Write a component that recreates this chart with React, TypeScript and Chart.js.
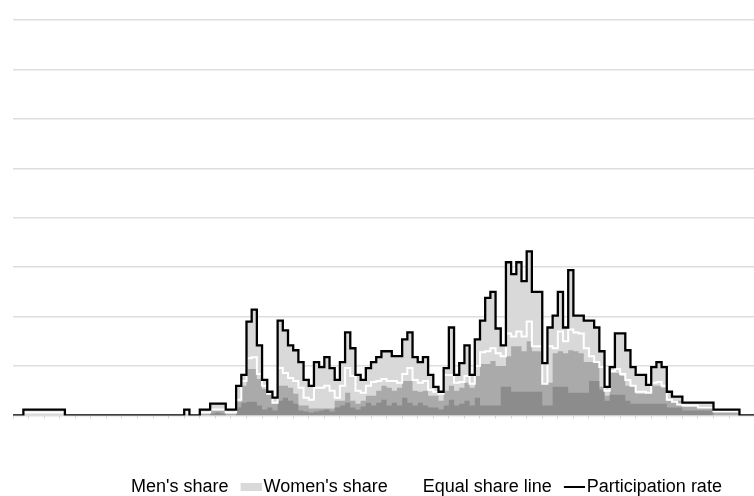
import React, { useEffect, useRef } from 'react';
import { Chart, registerables } from 'chart.js';

Chart.register(...registerables);

// One value per time bin (143 bins). Values in percent.
const participation = [
  0, 0, 0.6, 0.6, 0.6, 0.6, 0.6, 0.6, 0.6, 0.6,
  0, 0, 0, 0, 0, 0, 0, 0, 0, 0,
  0, 0, 0, 0, 0, 0, 0, 0, 0, 0,
  0, 0, 0, 0.6, 0, 0, 0.6, 0.6, 1.2, 1.2,
  1.2, 0.6, 0.6, 3.0, 4.1, 9.5, 10.7, 7.1, 3.6, 2.4,
  1.8, 9.6, 8.6, 7.1, 6.6, 5.4, 3.6, 3.0, 5.4, 4.9,
  5.9, 4.8, 3.6, 5.4, 8.4, 6.8, 4.1, 3.6, 4.8, 5.4,
  5.9, 6.5, 6.5, 6.0, 6.0, 7.7, 8.4, 5.9, 5.4, 5.9,
  4.1, 2.9, 2.4, 4.8, 8.9, 4.1, 5.3, 7.1, 4.1, 7.7,
  9.6, 11.9, 12.5, 8.8, 7.1, 15.5, 14.3, 15.5, 13.6, 16.6,
  12.5, 12.5, 5.3, 8.9, 10.1, 12.5, 8.9, 14.7, 10.1, 10.1,
  9.6, 9.6, 8.9, 6.5, 2.9, 4.9, 8.3, 8.3, 6.6, 4.9,
  4.1, 4.1, 3.1, 4.9, 5.4, 4.9, 2.4, 1.9, 1.9, 1.3,
  1.3, 1.3, 1.3, 1.3, 1.3, 0.6, 0.6, 0.6, 0.6, 0.6,
  0, 0, 0,
];

const equalShare = [
  0, 0, 0.3, 0.3, 0.3, 0.3, 0.3, 0.3, 0.3, 0.3,
  0, 0, 0, 0, 0, 0, 0, 0, 0, 0,
  0, 0, 0, 0, 0, 0, 0, 0, 0, 0,
  0, 0, 0, 0.3, 0, 0, 0.3, 0.3, 0.6, 0.6,
  0.6, 0.3, 0.3, 1.6, 3.5, 5.8, 5.9, 4.2, 3.0, 2.2,
  1.3, 4.8, 4.3, 3.8, 3.5, 2.8, 1.8, 1.6, 2.8, 2.8,
  3.0, 2.5, 1.8, 3.0, 4.8, 4.0, 2.5, 2.3, 3.0, 3.4,
  3.5, 3.7, 3.5, 3.5, 3.3, 4.2, 4.8, 3.6, 3.3, 3.5,
  2.6, 2.4, 2.2, 4.1, 4.1, 3.3, 3.4, 4.0, 3.2, 5.0,
  6.4, 6.5, 6.8, 6.3, 6.0, 8.3, 8.0, 8.5, 8.0, 9.5,
  7.0, 7.0, 3.2, 7.0, 6.8, 8.5, 7.5, 8.7, 8.4, 8.3,
  6.8, 6.0, 5.4, 4.9, 2.5, 4.5, 4.7, 4.2, 3.6, 3.0,
  2.4, 2.4, 2.3, 3.3, 3.4, 3.0, 1.6, 1.4, 1.1, 1.0,
  1.0, 1.0, 0.8, 0.8, 0.8, 0.4, 0.4, 0.4, 0.4, 0.4,
  0, 0, 0,
];

const menShare = [
  0, 0, 0, 0, 0, 0, 0, 0, 0, 0,
  0, 0, 0, 0, 0, 0, 0, 0, 0, 0,
  0, 0, 0, 0, 0, 0, 0, 0, 0, 0,
  0, 0, 0, 0, 0, 0, 0.2, 0.2, 0.5, 0.5,
  0.5, 0.2, 0.2, 1.4, 3.0, 4.7, 4.7, 3.7, 2.7, 2.2,
  1.3, 3.0, 3.0, 2.8, 2.2, 1.0, 1.0, 0.7, 0.7, 0.7,
  0.7, 0.7, 1.5, 1.5, 2.3, 1.5, 1.2, 1.5, 2.0, 2.0,
  2.5, 3.0, 2.8, 2.5, 2.8, 3.5, 3.5, 2.5, 2.4, 2.5,
  2.0, 2.0, 1.5, 2.5, 3.0, 2.5, 2.8, 3.3, 2.8, 4.0,
  5.2, 5.2, 5.5, 5.0, 5.0, 6.0, 7.0, 7.0, 6.5, 7.5,
  6.5, 6.5, 3.3, 3.3, 6.3, 6.5, 6.3, 6.6, 6.5, 6.3,
  5.4, 5.4, 5.4, 2.9, 2.0, 4.3, 4.3, 4.0, 3.0, 3.0,
  2.2, 2.2, 2.3, 3.0, 3.0, 2.8, 1.5, 1.5, 1.5, 0.9,
  0.9, 0.9, 0.9, 0.9, 0.9, 0.4, 0.4, 0.4, 0.4, 0.4,
  0, 0, 0,
];

const menShareCore = [
  0, 0, 0, 0, 0, 0, 0, 0, 0, 0,
  0, 0, 0, 0, 0, 0, 0, 0, 0, 0,
  0, 0, 0, 0, 0, 0, 0, 0, 0, 0,
  0, 0, 0, 0, 0, 0, 0, 0, 0.2, 0.3,
  0.2, 0, 0, 0.8, 1.3, 1.4, 1.4, 1.0, 0.6, 0.8,
  0.5, 1.5, 1.8, 1.5, 1.2, 0.5, 0.4, 0.3, 0.4, 0.5,
  0.6, 0.4, 0.8, 1.0, 1.3, 0.8, 0.6, 0.9, 1.3, 1.0,
  1.3, 1.6, 1.0, 1.3, 1.0, 1.8, 1.3, 1.0, 1.3, 1.0,
  0.8, 0.8, 0.6, 1.0, 1.6, 1.0, 1.2, 1.5, 1.0, 1.8,
  1.0, 1.0, 1.0, 1.0, 2.9, 2.9, 2.4, 2.4, 2.4, 2.4,
  2.4, 2.4, 1.0, 1.0, 2.9, 2.9, 2.9, 2.3, 2.3, 2.3,
  2.3, 3.5, 3.5, 2.6, 1.5, 2.1, 2.1, 2.1, 1.5, 1.2,
  1.2, 1.2, 1.2, 1.2, 1.2, 1.2, 0.8, 0.8, 0.8, 0.5,
  0.5, 0.5, 0.5, 0.5, 0.5, 0, 0, 0, 0, 0,
  0, 0, 0,
];

const legendLabels = ["Men's share", "Women's share", 'Equal share line', 'Participation rate'];

const Y_MAX = 40;
const Y_STEP = 5;
const X_TICK_STEP = 3;

function toPoints(values: number[]) {
  const pts = values.map((v, i) => ({ x: i, y: v }));
  pts.push({ x: values.length, y: values[values.length - 1] });
  return pts;
}

// Legend symbol drawn right next to its text (offset inside a wider image).
function makeSymbol(color: string, height: number, bandTop: number, bandHeight: number) {
  const c = document.createElement('canvas');
  c.width = 35;
  c.height = height;
  const ctx = c.getContext('2d');
  if (ctx && color !== 'none') {
    ctx.fillStyle = color;
    ctx.fillRect(14, bandTop, 21, bandHeight);
  }
  return c;
}

const legendShift = {
  id: 'legendShift',
  afterLayout(chart: any) {
    if (chart.legend) chart.legend.left = 68;
  },
};

export default function App() {
  const ref = useRef<HTMLCanvasElement>(null);

  useEffect(() => {
    const canvas = ref.current;
    if (!canvas) return;
    const font = { family: "'Liberation Sans', Arial, Helvetica, sans-serif", size: 18 };
    const symNone = makeSymbol('none', 8, 0, 8);
    const symWomen = makeSymbol('#d9d9d9', 8, 0, 8);
    const symLine = makeSymbol('#000000', 4, 1, 2);
    const chart = new Chart(canvas, {
      type: 'line',
      data: {
        datasets: [
          {
            label: legendLabels[3],
            data: toPoints(participation),
            stepped: true,
            borderColor: '#000000',
            borderWidth: 2.3,
            fill: false,
            pointRadius: 0,
            order: 0,
          },
          {
            label: legendLabels[2],
            data: toPoints(equalShare),
            stepped: true,
            borderColor: '#ffffff',
            borderWidth: 2,
            fill: false,
            pointRadius: 0,
            order: 1,
          },
          {
            label: "Men's share (core)",
            data: toPoints(menShareCore),
            stepped: true,
            borderColor: 'rgba(0,0,0,0)',
            borderWidth: 0,
            backgroundColor: '#8c8c8c',
            fill: 'origin',
            pointRadius: 0,
            order: 4,
          },
          {
            label: legendLabels[0],
            data: toPoints(menShare),
            stepped: true,
            borderColor: 'rgba(0,0,0,0)',
            borderWidth: 0,
            backgroundColor: '#aaaaaa',
            fill: 'origin',
            pointRadius: 0,
            order: 5,
          },
          {
            label: legendLabels[1],
            data: toPoints(participation),
            stepped: true,
            borderColor: 'rgba(0,0,0,0)',
            borderWidth: 0,
            backgroundColor: '#d9d9d9',
            fill: 'origin',
            pointRadius: 0,
            order: 10,
          },
        ],
      },
      options: {
        animation: false,
        responsive: false,
        devicePixelRatio: 1,
        layout: { padding: { top: 20, left: 13, right: 0, bottom: 0 } },
        scales: {
          x: {
            type: 'linear',
            min: 0,
            max: participation.length,
            border: { display: false },
            grid: {
              drawOnChartArea: false,
              drawTicks: true,
              tickLength: 3,
              tickColor: '#d0d0d0',
            },
            ticks: { display: false, stepSize: X_TICK_STEP },
            afterFit: (scale: any) => {
              scale.height = 57.5;
            },
          },
          y: {
            min: 0,
            max: Y_MAX,
            border: { display: false },
            grid: { color: '#dedede', lineWidth: 1.5, drawTicks: false },
            ticks: { display: false, stepSize: Y_STEP },
          },
        },
        plugins: {
          filler: { drawTime: 'beforeDatasetsDraw' },
          tooltip: { enabled: false },
          legend: {
            display: true,
            position: 'bottom',
            align: 'center',
            labels: {
              font,
              color: '#000000',
              usePointStyle: true,
              pointStyleWidth: 21,
              boxWidth: 21,
              boxHeight: 7,
              padding: 5,
              generateLabels: () => [
                { text: legendLabels[0], fillStyle: 'rgba(0,0,0,0)', strokeStyle: 'rgba(0,0,0,0)', lineWidth: 0, pointStyle: symNone, hidden: false, datasetIndex: 3 },
                { text: legendLabels[1], fillStyle: '#d9d9d9', strokeStyle: '#d9d9d9', lineWidth: 0, pointStyle: symWomen, hidden: false, datasetIndex: 4 },
                { text: legendLabels[2], fillStyle: '#ffffff', strokeStyle: '#ffffff', lineWidth: 0, pointStyle: symNone, hidden: false, datasetIndex: 1 },
                { text: legendLabels[3], fillStyle: '#000000', strokeStyle: '#000000', lineWidth: 0, pointStyle: symLine, hidden: false, datasetIndex: 0 },
              ] as any,
            },
          },
        },
      } as any,
      plugins: [legendShift],
    });
    return () => chart.destroy();
  }, []);

  return (
    <div style={{ position: 'fixed', left: 0, top: 0, width: 755, height: 506 }}>
      <canvas ref={ref} width={755} height={506} style={{ display: 'block', width: 755, height: 506 }} />
    </div>
  );
}
